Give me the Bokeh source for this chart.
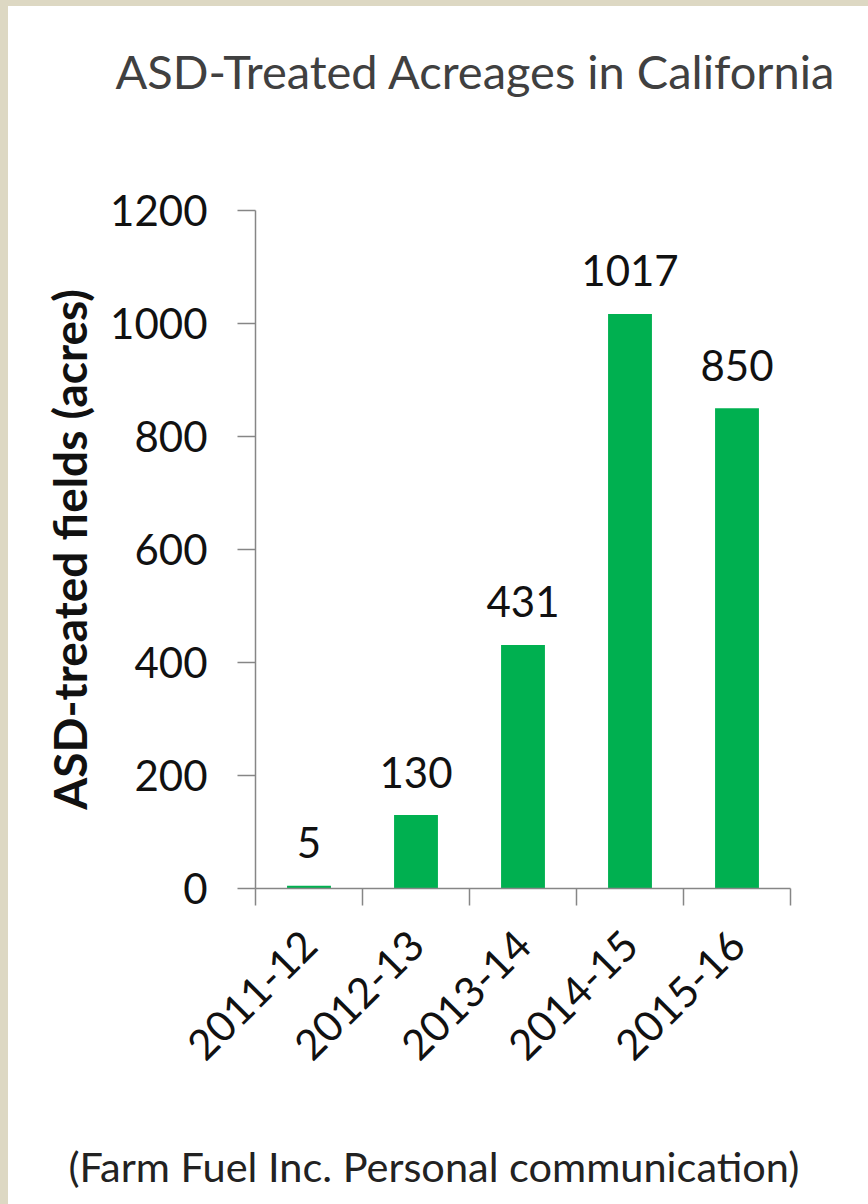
import math

from bokeh.core.properties import value
from bokeh.embed import file_html
from bokeh.layouts import column
from bokeh.models import ColumnDataSource, FixedTicker, Range1d, Title
from bokeh.plotting import figure
from bokeh.resources import INLINE

# Data
seasons = ["2011-12", "2012-13", "2013-14", "2014-15", "2015-16"]
acres = [5, 130, 431, 1017, 850]
y_ticks = [0, 200, 400, 600, 800, 1000, 1200]

title_text = "ASD-Treated Acreages in California"
note_text = "(Farm Fuel Inc. Personal communication)"

FONT = "Lato"
AXIS_GREY = "#868686"
GREEN = "#00B050"

centers = [i + 0.5 for i in range(len(seasons))]
source = ColumnDataSource(dict(x=centers, top=acres, label=[str(a) for a in acres]))

p = figure(
    width=860, height=1198,
    frame_width=535, frame_height=678,
    min_border_left=247, min_border_right=78,
    min_border_top=204, min_border_bottom=316,
    x_range=Range1d(0, len(seasons)),
    y_range=Range1d(0, 1200),
    output_backend="svg", toolbar_location=None,
    background_fill_color="white", border_fill_color="white",
    outline_line_color=None,
)
p.xgrid.visible = False
p.ygrid.visible = False

# Bars and their value labels
p.vbar(x="x", top="top", width=0.41, source=source,
       fill_color=GREEN, line_color=None)
p.text(x="x", y="top", text="label", source=source,
       text_align="center", text_baseline="alphabetic", y_offset=-43,
       text_font=value(FONT), text_font_size="42px", text_color="#111111")

# Y axis
ya = p.yaxis[0]
ya.ticker = FixedTicker(ticks=y_ticks)
ya.axis_line_color = AXIS_GREY
ya.axis_line_width = 1.5
ya.major_tick_line_color = AXIS_GREY
ya.major_tick_line_width = 1.5
ya.major_tick_out = 18
ya.major_tick_in = 0
ya.minor_tick_line_color = None
ya.major_label_standoff = 30
ya.major_label_text_font = FONT
ya.major_label_text_font_size = "42px"
ya.major_label_text_color = "#111111"
ya.axis_label = "ASD-treated fields (acres)"
ya.axis_label_text_font = FONT
ya.axis_label_text_font_style = "bold"
ya.axis_label_text_font_size = "46px"
ya.axis_label_text_color = "#111111"
ya.axis_label_standoff = 10

# X axis: labels at category centres, tick marks on category boundaries
xa = p.xaxis[0]
xa.ticker = FixedTicker(ticks=centers, minor_ticks=list(range(len(seasons) + 1)))
xa.major_label_overrides = {c: s for c, s in zip(centers, seasons)}
xa.major_label_orientation = math.pi / 4
xa.axis_line_color = AXIS_GREY
xa.axis_line_width = 1.5
xa.major_tick_line_color = None
xa.major_tick_out = 0
xa.major_tick_in = 0
xa.minor_tick_line_color = AXIS_GREY
xa.minor_tick_line_width = 1.5
xa.minor_tick_out = 17
xa.minor_tick_in = 0
xa.major_label_standoff = 32
xa.major_label_text_font = FONT
xa.major_label_text_font_size = "42px"
xa.major_label_text_color = "#111111"

# Title (empty trailing lines lift it towards the top edge)
p.title.text = title_text + "\n \n "
p.title.align = "left"
p.title.offset = -140
p.title.text_font = FONT
p.title.text_font_size = "47px"
p.title.text_font_style = "normal"
p.title.text_color = "#404040"
p.title.standoff = 0

# Source note (an empty first line pushes it towards the bottom edge)
note = Title(text=" \n" + note_text, align="left", offset=-187,
             text_font=FONT, text_font_size="41.5px", text_font_style="normal",
             text_color="#222222", standoff=24)
p.add_layout(note, "below")

page = column(p, styles={"background-color": "white",
                         "border-left": "8px solid #DDD8C3",
                         "border-top": "6px solid #DDD8C3"})

open("out.html", "w").write(file_html(page, INLINE))
